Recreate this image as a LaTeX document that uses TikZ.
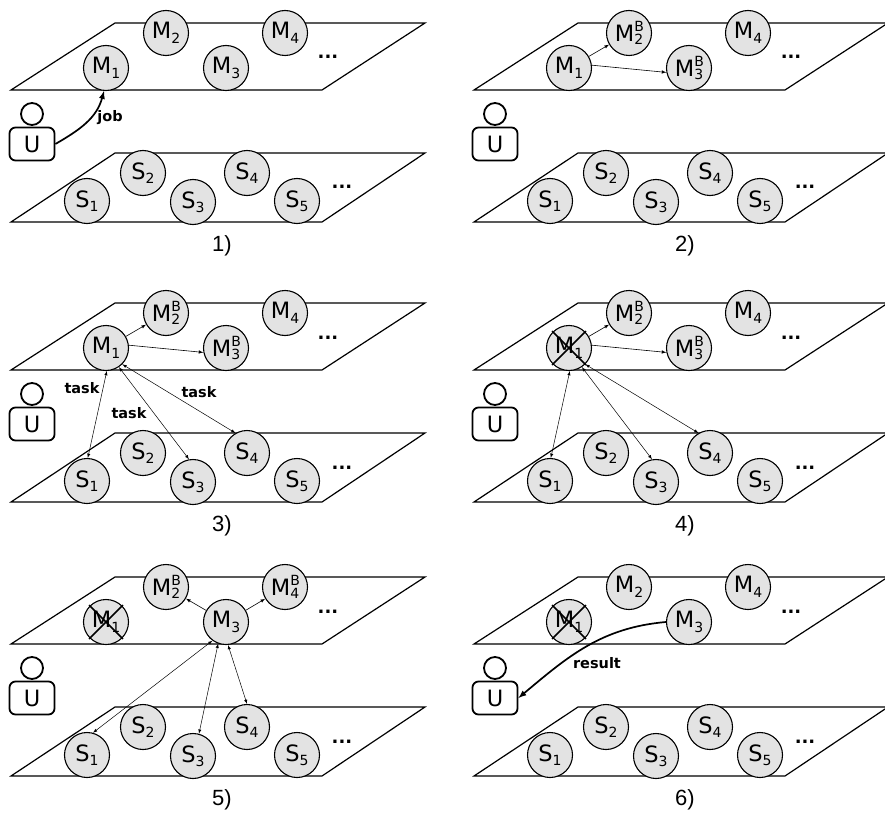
\documentclass[tikz,border=0pt]{standalone}
\usepackage{fontspec}
\setmainfont{DejaVu Sans}
\newfontfamily\capfont{Liberation Sans}
\usetikzlibrary{arrows}

% node text with subscript, and with backup mark B on top
\newcommand{\nodesub}[2]{#1\raisebox{-0.2em}{\fontsize{14}{14}\selectfont #2}}
\newcommand{\backupsub}[2]{#1\rlap{\raisebox{0.45em}{\fontsize{14}{14}\selectfont B}}\raisebox{-0.15em}{\fontsize{14}{14}\selectfont #2}}

\tikzset{
  plane/.style={draw, line width=1.2},
  srv/.style={circle, draw, line width=1.1, fill=black!11, minimum size=45, inner sep=0,
    font=\fontsize{22.5}{26}\selectfont},
  head/.style={circle, draw, line width=1.8, minimum size=22, inner sep=0},
  user/.style={rectangle, rounded corners=6, draw, line width=1.8, minimum width=45,
    minimum height=33, inner sep=0, font=\fontsize{22.5}{26}\selectfont},
  more/.style={anchor=base, font=\fontsize{18}{18}\selectfont\bfseries},
  caption/.style={inner sep=0, font=\fontsize{22}{24}\selectfont\capfont},
  tag/.style={font=\fontsize{14.5}{17}\selectfont\bfseries},
  call/.style={->, line width=1.7},
  msg/.style={->, line width=0.6},
  task/.style={<->, line width=0.5},
  dead/.style={line width=1.5}
}

% both layers, the user and the slaves of one panel
\newcommand{\layers}[2]{%
  \draw[plane] (11,90) -- (322,90) -- (425,23) -- (115,23) -- cycle;
  \draw[plane] (11,222) -- (322,222) -- (425,153) -- (115,153) -- cycle;
  \node[head] (#1h) at (32,114) {};
  \node[user] (#1u) at (32,144) {U};
  \foreach \i/\x/\y in {1/87/201,2/143/173,3/193/202,4/247/173,5/297/201}
    \node[srv] (#1s\i) at (\x,\y) {\nodesub{S}{\i}};
  \node[more] (#1mdots) at (328,59) {...};
  \node[more] (#1sdots) at (342,189) {...};
  \node[caption] (#1cap) at (222,246) {#2};
}
\newcommand{\crossout}[1]{\draw[dead] (#1.center) ++(135:24) -- ++(-45:48);
  \draw[dead] (#1.center) ++(45:24) -- ++(-135:48);}

\begin{document}
\begin{tikzpicture}[x=1pt, y=-1pt, >=latex]
\useasboundingbox (0,0) rectangle (885,813);

% 1) job submitted
\begin{scope}
  \layers{a}{1)}
  \node[srv] (am1) at (106,68) {\nodesub{M}{1}};
  \node[srv] (am2) at (166,33) {\nodesub{M}{2}};
  \node[srv] (am3) at (226,68) {\nodesub{M}{3}};
  \node[srv] (am4) at (285,33) {\nodesub{M}{4}};
  \draw[call] (au.east) to[out=30, in=-105] (am1.-95);
  \node[tag] (ajob) at (110,118) {job};
\end{scope}

% 2) backups chosen
\begin{scope}[shift={(463,0)}]
  \layers{b}{2)}
  \node[srv] (bm1) at (106,68) {\nodesub{M}{1}};
  \node[srv] (bm2) at (166,33) {\backupsub{M}{2}};
  \node[srv] (bm3) at (226,68) {\backupsub{M}{3}};
  \node[srv] (bm4) at (285,33) {\nodesub{M}{4}};
  \draw[msg] (bm1) -- (bm2);
  \draw[msg] (bm1.7) -- (bm3.191);
\end{scope}

% 3) tasks sent
\begin{scope}[shift={(0,280)}]
  \layers{c}{3)}
  \node[srv] (cm1) at (106,68) {\nodesub{M}{1}};
  \node[srv] (cm2) at (166,33) {\backupsub{M}{2}};
  \node[srv] (cm3) at (226,68) {\backupsub{M}{3}};
  \node[srv] (cm4) at (285,33) {\nodesub{M}{4}};
  \draw[msg] (cm1) -- (cm2);
  \draw[msg] (cm1.7) -- (cm3.191);
  \draw[task] (cm1.-88) -- (cs1.88);
  \draw[task] (cm1.-56) -- (cs3.100);
  \draw[task] (cm1.-45) -- (cs4.120);
  \node[tag] (ct1) at (82,108) {task};
  \node[tag] (ct2) at (129,133) {task};
  \node[tag] (ct3) at (199,112) {task};
\end{scope}

% 4) master fails
\begin{scope}[shift={(463,280)}]
  \layers{d}{4)}
  \node[srv] (dm1) at (106,68) {\nodesub{M}{1}};
  \node[srv] (dm2) at (166,33) {\backupsub{M}{2}};
  \node[srv] (dm3) at (226,68) {\backupsub{M}{3}};
  \node[srv] (dm4) at (285,33) {\nodesub{M}{4}};
  \draw[msg] (dm1) -- (dm2);
  \draw[msg] (dm1.7) -- (dm3.191);
  \draw[task] (dm1.-88) -- (ds1.88);
  \draw[task] (dm1.-56) -- (ds3.100);
  \draw[task] (dm1.-45) -- (ds4.120);
  \crossout{dm1}
\end{scope}

% 5) backup takes over
\begin{scope}[shift={(0,554)}]
  \layers{e}{5)}
  \node[srv] (em1) at (106,68) {\nodesub{M}{1}};
  \node[srv] (em2) at (166,33) {\backupsub{M}{2}};
  \node[srv] (em3) at (226,68) {\nodesub{M}{3}};
  \node[srv] (em4) at (285,33) {\backupsub{M}{4}};
  \crossout{em1}
  \draw[msg] (em3) -- (em2);
  \draw[msg] (em3) -- (em4);
  \draw[task] (em3.-126) -- (es1.75);
  \draw[task] (em3.-110) -- (es3.75);
  \draw[task] (em3.-85) -- (es4.90);
\end{scope}

% 6) result returned
\begin{scope}[shift={(463,554)}]
  \layers{f}{6)}
  \node[srv] (fm1) at (106,68) {\nodesub{M}{1}};
  \node[srv] (fm2) at (166,33) {\nodesub{M}{2}};
  \node[srv] (fm3) at (226,68) {\nodesub{M}{3}};
  \node[srv] (fm4) at (285,33) {\nodesub{M}{4}};
  \crossout{fm1}
  \draw[call] (fm3.west) to[out=185, in=40] (fu.east);
  \node[tag] (fres) at (134,109) {result};
\end{scope}
\end{tikzpicture}
\end{document}
